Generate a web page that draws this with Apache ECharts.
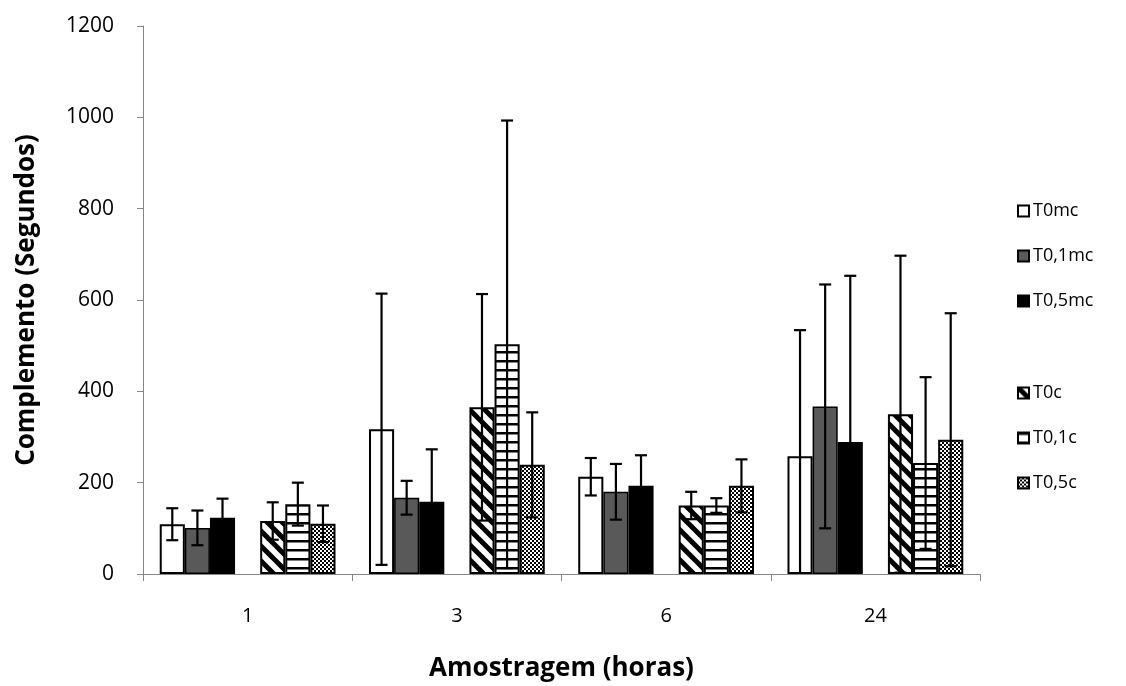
<!DOCTYPE html>
<html>
<head>
<meta charset="utf-8">
<script src="https://cdn.jsdelivr.net/npm/echarts@6/dist/echarts.min.js"></script>
<style>html,body{margin:0;padding:0;background:#fff}#c{width:1126px;height:686px}</style>
</head>
<body>
<div id="c"></div>
<script>
const categories = ['1', '3', '6', '24'];
const seriesNames = ['T0mc', 'T0,1mc', 'T0,5mc', 'T0c', 'T0,1c', 'T0,5c'];
const T0mc    = [109, 317, 213, 258];
const T0_1mc  = [101, 167, 180, 367];
const T0_5mc  = [123, 158, 193, 289];
const T0c     = [116, 365, 150, 350];
const T0_1c   = [153, 503, 150, 243];
const T0_5c   = [110, 239, 193, 294];
const errT0mc   = [35, 297, 41, 276];
const errT0_1mc = [38, 37, 61, 267];
const errT0_5mc = [42, 115, 67, 364];
const errT0c    = [41, 248, 30, 347];
const errT0_1c  = [47, 490, 16, 188];
const errT0_5c  = [40, 115, 58, 277];
const yTicks = { min: 0, max: 1200, interval: 200 };

const values = [T0mc, T0_1mc, T0_5mc, T0c, T0_1c, T0_5c];
const errors = [errT0mc, errT0_1mc, errT0_5mc, errT0c, errT0_1c, errT0_5c];

function makeCanvas(w, h, draw) {
  const c = document.createElement('canvas');
  c.width = w; c.height = h;
  const ctx = c.getContext('2d');
  ctx.fillStyle = '#fff';
  ctx.fillRect(0, 0, w, h);
  draw(ctx);
  return c;
}
const diag = makeCanvas(15, 15, ctx => {
  ctx.strokeStyle = '#000'; ctx.lineWidth = 5;
  for (let c = -15; c <= 15; c += 15) {
    ctx.beginPath(); ctx.moveTo(-5, -5 + c); ctx.lineTo(20, 20 + c); ctx.stroke();
  }
});
const horiz = makeCanvas(4, 9, ctx => {
  ctx.fillStyle = '#000'; ctx.fillRect(0, 0, 4, 2.5);
});
const checker = makeCanvas(4, 4, ctx => {
  ctx.fillStyle = '#000';
  ctx.fillRect(0, 0, 2, 2); ctx.fillRect(2, 2, 2, 2);
});

const fills = [
  '#ffffff', '#595959', '#000000',
  { image: diag, repeat: 'repeat' },
  { image: horiz, repeat: 'repeat' },
  { image: checker, repeat: 'repeat' }
];

const FONT = 'Open Sans';
const GAP = 0.16;
const N = 7;
const slots = [0, 1, 2, 4, 5, 6];

const series = [];
for (let i = 0; i < 6; i++) {
  series.push({
    name: seriesNames[i], type: 'bar', data: values[i],
    barGap: '0%', barCategoryGap: (GAP * 100) + '%',
    itemStyle: { color: fills[i], borderColor: '#000', borderWidth: i === 1 ? 1.5 : 2 },
    emphasis: { disabled: true }, z: 2
  });
  if (i === 2) {
    series.push({
      name: 'blank', type: 'bar', data: [null, null, null, null],
      barGap: '0%', barCategoryGap: (GAP * 100) + '%',
      itemStyle: { color: 'rgba(0,0,0,0)' }, z: 1
    });
  }
}
for (let i = 0; i < 6; i++) {
  const slot = slots[i];
  series.push({
    name: 'err' + i, type: 'custom', z: 5, silent: true,
    data: categories.map((c, k) => [k, values[i][k], errors[i][k]]),
    encode: { x: 0, y: 1 },
    renderItem: function (params, api) {
      const ci = api.value(0), m = api.value(1), e = api.value(2);
      const band = api.size([1, 0])[0];
      const bw = band * (1 - GAP) / N;
      const base = api.coord([ci, m]);
      const x = base[0] - band * (1 - GAP) / 2 + bw * (slot + 0.5);
      const hiV = m + e, loV = Math.max(0, m - e);
      const yHi = api.coord([ci, hiV])[1];
      const yLo = api.coord([ci, loV])[1];
      const cap = 6;
      const st = { stroke: '#000', lineWidth: 2.2 };
      const ch = [
        { type: 'line', shape: { x1: x, y1: yHi, x2: x, y2: yLo }, style: st },
        { type: 'line', shape: { x1: x - cap, y1: yHi, x2: x + cap, y2: yHi }, style: st }
      ];
      if (m - e > 0) ch.push({ type: 'line', shape: { x1: x - cap, y1: yLo, x2: x + cap, y2: yLo }, style: st });
      return { type: 'group', children: ch };
    }
  });
}

const legendCommon = {
  orient: 'vertical', left: 1012, itemWidth: 11, itemHeight: 11, itemGap: 25,
  icon: 'rect', selectedMode: false,
  textStyle: { fontFamily: FONT, fontSize: 18, color: '#000', lineHeight: 20, padding: [0, 0, 0, -1] }
};

const chart = echarts.init(document.getElementById('c'), null, { renderer: 'canvas' });
chart.setOption({
  animation: false,
  backgroundColor: '#fff',
  grid: { left: 143, right: 146, top: 26, bottom: 112, containLabel: false, outerBoundsMode: 'none' },
  legend: [
    Object.assign({}, legendCommon, { top: 196, data: seriesNames.slice(0, 3) }),
    Object.assign({}, legendCommon, { top: 378, data: seriesNames.slice(3) })
  ],
  xAxis: {
    type: 'category', data: categories, boundaryGap: true,
    name: 'Amostragem (horas)', nameLocation: 'middle', nameGap: 82,
    nameTextStyle: { fontFamily: FONT, fontSize: 26, fontWeight: 'bold', color: '#000' },
    axisLine: { lineStyle: { color: '#868686', width: 1 } },
    axisTick: { show: true, length: 7, lineStyle: { color: '#868686' } },
    axisLabel: { fontFamily: FONT, fontSize: 20, color: '#000', margin: 32 },
    splitLine: { show: false }
  },
  yAxis: {
    type: 'value', min: yTicks.min, max: yTicks.max, interval: yTicks.interval,
    name: 'Complemento (Segundos)', nameLocation: 'middle', nameGap: 103,
    nameTextStyle: { fontFamily: FONT, fontSize: 26, fontWeight: 'bold', color: '#000' },
    axisLine: { show: true, lineStyle: { color: '#868686', width: 1 } },
    axisTick: { show: true, length: 6, lineStyle: { color: '#868686' } },
    axisLabel: { fontFamily: FONT, fontSize: 21, color: '#000', margin: 29, formatter: v => String(v) },
    splitLine: { show: false }
  },
  series: series
});
</script>
</body>
</html>
